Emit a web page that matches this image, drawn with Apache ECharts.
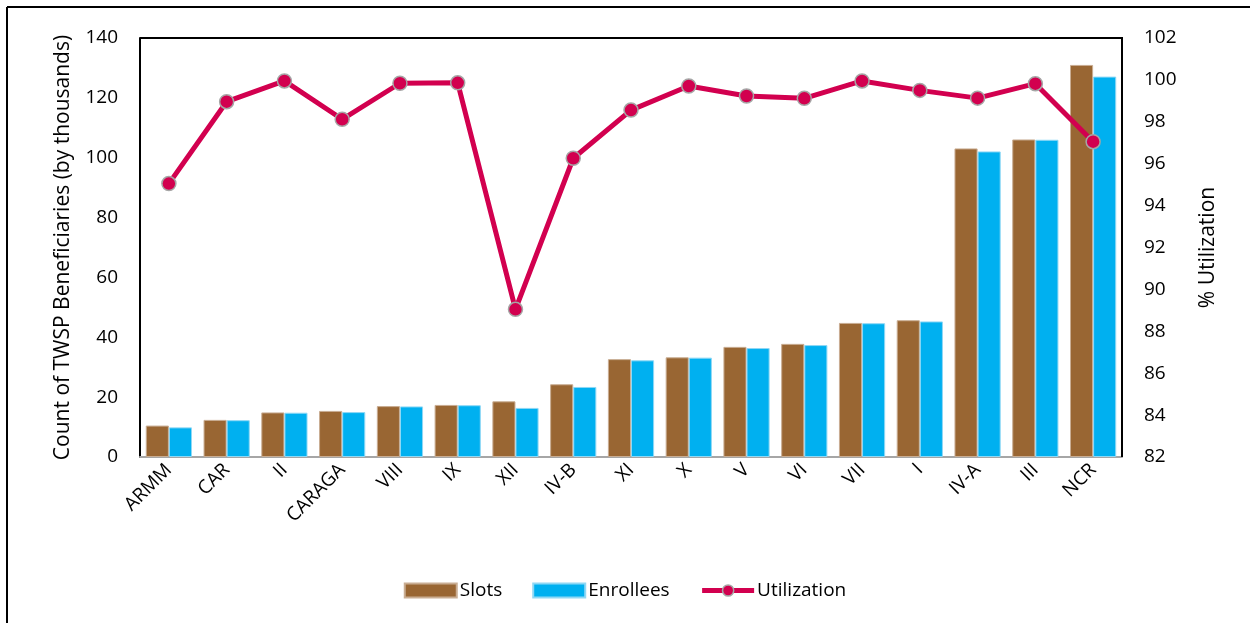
<!DOCTYPE html>
<html>
<head>
<meta charset="utf-8">
<script src="https://cdn.jsdelivr.net/npm/echarts@6/dist/echarts.min.js"></script>
<style>
  html, body { margin: 0; padding: 0; background: #fff; }
  #chart { width: 1250px; height: 623px; }
</style>
</head>
<body>
<div id="chart"></div>
<script>
// regions, sorted by slots
const regions = ['ARMM', 'CAR', 'II', 'CARAGA', 'VIII', 'IX', 'XII', 'IV-B', 'XI', 'X', 'V', 'VI', 'VII', 'I', 'IV-A', 'III', 'NCR'];
const slots = [10.5, 12.4, 14.9, 15.4, 17.0, 17.4, 18.6, 24.3, 32.7, 33.3, 36.8, 37.8, 44.8, 45.7, 103.1, 106.1, 131.0];
const enrollees = [9.9, 12.3, 14.8, 15.0, 16.9, 17.3, 16.4, 23.4, 32.3, 33.2, 36.4, 37.4, 44.7, 45.3, 102.1, 106.0, 127.1];
const utilization = [95.05, 98.96, 99.95, 98.12, 99.84, 99.86, 89.05, 96.26, 98.56, 99.71, 99.23, 99.12, 99.95, 99.5, 99.13, 99.82, 97.05];

const font = '"Open Sans", "Noto Sans", sans-serif';

const chart = echarts.init(document.getElementById('chart'));

chart.setOption({
  animation: false,
  textStyle: { fontFamily: font, color: '#000' },
  graphic: [
    { type: 'line', shape: { x1: 7, y1: 7, x2: 1250, y2: 7 }, style: { stroke: '#000', lineWidth: 2 } },
    { type: 'line', shape: { x1: 7, y1: 7, x2: 7, y2: 623 }, style: { stroke: '#000', lineWidth: 2 } },
    // plot box, top and right edges
    { type: 'polyline', shape: { points: [[140, 38], [1122, 38], [1122, 457]] }, style: { stroke: '#000', lineWidth: 2, fill: null }, z: 10 }
  ],
  grid: { left: 140, right: 128, top: 38, bottom: 166 },
  legend: {
    bottom: 18,
    left: 'center',
    itemWidth: 52,
    itemHeight: 14,
    itemGap: 30,
    textStyle: { fontSize: 19, fontFamily: font, color: '#000', padding: [0, 0, 0, -2] },
    data: [
      { name: 'Slots', icon: 'rect' },
      { name: 'Enrollees', icon: 'rect' },
      {
        name: 'Utilization',
        itemStyle: { color: '#d2004f', borderColor: '#a6a6a6', borderWidth: 1.5 },
        lineStyle: { color: '#d2004f', width: 5 }
      }
    ]
  },
  xAxis: {
    type: 'category',
    data: regions,
    axisLine: { lineStyle: { color: '#a6a6a6', width: 2 } },
    axisTick: { show: false },
    axisLabel: { rotate: 45, fontSize: 19, color: '#000', margin: 10, interval: 0 }
  },
  yAxis: [
    {
      type: 'value',
      min: 0,
      max: 140,
      interval: 20,
      name: 'Count of TWSP Beneficiaries (by thousands)',
      nameLocation: 'middle',
      nameRotate: 90,
      nameGap: 66,
      nameTextStyle: { fontSize: 21, color: '#000' },
      axisLine: { show: true, lineStyle: { color: '#000', width: 2 } },
      axisTick: { show: false },
      splitLine: { show: false },
      axisLabel: { fontSize: 19, color: '#000', margin: 22 }
    },
    {
      type: 'value',
      min: 82,
      max: 102,
      interval: 2,
      name: '% Utilization',
      nameLocation: 'middle',
      nameRotate: 90,
      nameGap: 76,
      nameTextStyle: { fontSize: 21, color: '#000' },
      axisLine: { show: false },
      axisTick: { show: false },
      splitLine: { show: false },
      axisLabel: { fontSize: 19, color: '#000', margin: 22 }
    }
  ],
  series: [
    {
      name: 'Slots',
      type: 'bar',
      data: slots,
      barGap: '0%',
      barCategoryGap: '20%',
      itemStyle: { color: '#996633', borderColor: '#c9ad93', borderWidth: 1 }
    },
    {
      name: 'Enrollees',
      type: 'bar',
      data: enrollees,
      itemStyle: { color: '#00b0f0', borderColor: '#8fd8f5', borderWidth: 1 }
    },
    {
      name: 'Utilization',
      type: 'line',
      yAxisIndex: 1,
      data: utilization,
      symbol: 'circle',
      symbolSize: 14,
      lineStyle: { color: '#d2004f', width: 5 },
      itemStyle: { color: '#d2004f', borderColor: '#a6a6a6', borderWidth: 1.5 },
      z: 5
    }
  ]
});
</script>
</body>
</html>
